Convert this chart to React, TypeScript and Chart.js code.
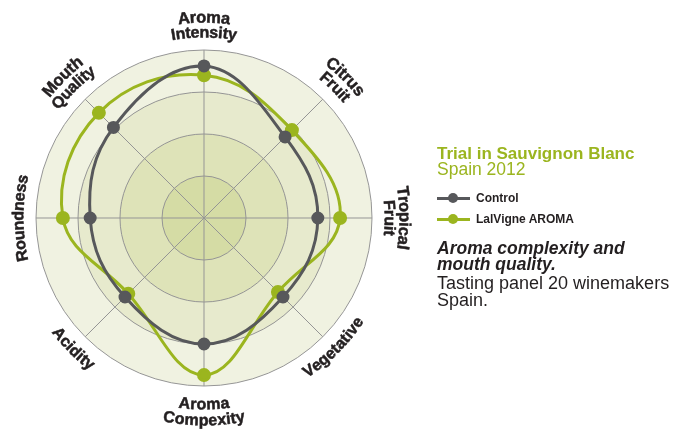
import React, { useEffect, useRef } from 'react';
import { Chart, registerables } from 'chart.js';

Chart.register(...registerables);

// ---- data ----
const categories: string[][] = [
  ['Aroma', 'Intensity'],
  ['Citrus', 'Fruit'],
  ['Tropical', 'Fruit'],
  ['Vegetative'],
  ['Aroma', 'Compexity'],
  ['Acidity'],
  ['Roundness'],
  ['Mouth', 'Quality'],
];
const seriesNames = ['Control', 'LalVigne AROMA'];
const controlValues = [3.62, 2.73, 2.71, 2.66, 3.0, 2.66, 2.71, 3.05];
const lalvigneValues = [3.4, 2.96, 3.24, 2.49, 3.74, 2.55, 3.36, 3.54];
const scaleMin = 0;
const scaleMax = 4;
const ringValues = [1, 2, 3, 4];

// ---- style ----
const CONTROL_COLOR = '#57585b';
const GREEN = '#9bb51f';
const TEXT = '#231f20';
const GRID = '#959595';
const RING_COLORS = ['#d5dca5', '#dee3b8', '#e7eacd', '#f0f2e1'];
const FONT = '"Liberation Sans", Arial, Helvetica, sans-serif';

const ringsPlugin = {
  id: 'rings',
  beforeDraw(chart: any) {
    const scale = chart.scales.r;
    if (!scale) return;
    const ctx = chart.ctx;
    ctx.save();
    for (let i = ringValues.length - 1; i >= 0; i--) {
      const r = scale.getDistanceFromCenterForValue(ringValues[i]);
      ctx.beginPath();
      ctx.arc(scale.xCenter, scale.yCenter, r, 0, Math.PI * 2);
      ctx.fillStyle = RING_COLORS[i];
      ctx.fill();
    }
    ctx.restore();
  },
};

function drawArcText(ctx: CanvasRenderingContext2D, text: string, cx: number, cy: number, r: number, theta: number, bottom: boolean) {
  const total = ctx.measureText(text).width;
  for (let i = 0; i < text.length; i++) {
    const before = ctx.measureText(text.slice(0, i)).width;
    const after = ctx.measureText(text.slice(0, i + 1)).width;
    const mid = (before + after) / 2;
    const off = (mid - total / 2) / r;
    const a = bottom ? theta - off : theta + off;
    const x = cx + r * Math.sin(a);
    const y = cy - r * Math.cos(a);
    ctx.save();
    ctx.translate(x, y);
    ctx.rotate(bottom ? a - Math.PI : a);
    ctx.strokeText(text[i], 0, 0);
    ctx.fillText(text[i], 0, 0);
    ctx.restore();
  }
}

const labelsPlugin = {
  id: 'arcLabels',
  afterDraw(chart: any) {
    const scale = chart.scales.r;
    if (!scale) return;
    const ctx = chart.ctx as CanvasRenderingContext2D;
    const labels = chart.data.labels as string[][];
    const base = scale.drawingArea + 17;
    ctx.save();
    ctx.fillStyle = TEXT;
    ctx.strokeStyle = TEXT;
    ctx.lineWidth = 0.5;
    ctx.lineJoin = 'round';
    ctx.textAlign = 'center';
    ctx.textBaseline = 'middle';
    labels.forEach((lines, i) => {
      const theta = scale.getIndexAngle(i);
      const deg = (theta * 180) / Math.PI;
      const bottom = deg > 91 && deg < 269;
      const n = lines.length;
      lines.forEach((line, j) => {
        const size = !bottom && n > 1 && j === 0 ? 16.5 : 16;
        ctx.font = `bold ${size}px ${FONT}`;
        const r = bottom
          ? base + (n > 1 ? 2 : 1) + j * 16
          : base + (n - 1 - j) * 15;
        drawArcText(ctx, line, scale.xCenter, scale.yCenter, r, theta, bottom);
      });
    });
    ctx.restore();
  },
};

function TextLine(props: { x: number; baseline: number; size: number; weight?: string; italic?: boolean; color: string; children: React.ReactNode }) {
  const { x, baseline, size, weight, italic, color, children } = props;
  return (
    <div
      style={{
        position: 'absolute',
        left: x,
        top: baseline - 0.8465 * size,
        fontFamily: FONT,
        fontSize: size,
        lineHeight: `${size}px`,
        fontWeight: weight || 'normal',
        fontStyle: italic ? 'italic' : 'normal',
        color,
        whiteSpace: 'nowrap',
      }}
    >
      {children}
    </div>
  );
}

function LegendItem(props: { y: number; color: string; label: string }) {
  const { y, color, label } = props;
  return (
    <>
      <div style={{ position: 'absolute', left: 437, top: y - 1.5, width: 33, height: 3, background: color }} />
      <div style={{ position: 'absolute', left: 448, top: y - 5, width: 10, height: 10, borderRadius: '50%', background: color }} />
      <TextLine x={476} baseline={y + 4.3} size={12} weight="bold" color={TEXT}>
        {label}
      </TextLine>
    </>
  );
}

export default function App() {
  const ref = useRef<HTMLCanvasElement | null>(null);

  useEffect(() => {
    if (!ref.current) return;
    const chart = new Chart(ref.current, {
      type: 'radar',
      data: {
        labels: categories,
        datasets: [
          {
            label: seriesNames[0],
            data: controlValues,
            borderColor: CONTROL_COLOR,
            backgroundColor: 'transparent',
            pointBackgroundColor: CONTROL_COLOR,
            pointBorderColor: CONTROL_COLOR,
            pointRadius: 5,
            borderWidth: 3,
            fill: false,
          },
          {
            label: seriesNames[1],
            data: lalvigneValues,
            borderColor: GREEN,
            backgroundColor: 'transparent',
            pointBackgroundColor: GREEN,
            pointBorderColor: GREEN,
            pointRadius: 5.5,
            borderWidth: 3,
            fill: false,
          },
        ],
      },
      options: {
        responsive: false,
        animation: false,
        layout: { padding: { left: 36, top: 50, right: 322, bottom: 46 } },
        plugins: { legend: { display: false }, tooltip: { enabled: false } },
        elements: {
          line: { tension: 0.4 },
          point: { borderWidth: 0, hoverRadius: 5 },
        },
        scales: {
          r: {
            min: scaleMin,
            max: scaleMax,
            ticks: { display: false, stepSize: 1 },
            grid: { circular: true, color: GRID, lineWidth: 1 },
            angleLines: { color: GRID, lineWidth: 1 },
            pointLabels: { display: false },
          },
        },
      },
      plugins: [ringsPlugin, labelsPlugin],
    } as any);
    return () => chart.destroy();
  }, []);

  return (
    <div style={{ position: 'absolute', left: 0, top: 0, width: 694, height: 432, background: '#fff', overflow: 'hidden' }}>
      <canvas ref={ref} width={694} height={432} style={{ position: 'absolute', left: 0, top: 0, width: 694, height: 432 }} />
      <TextLine x={437} baseline={159} size={17} weight="bold" color={GREEN}>
        Trial in Sauvignon Blanc
      </TextLine>
      <TextLine x={437} baseline={175.5} size={17.5} color={GREEN}>
        Spain 2012
      </TextLine>
      <LegendItem y={198} color={CONTROL_COLOR} label={seriesNames[0]} />
      <LegendItem y={219} color={GREEN} label={seriesNames[1]} />
      <TextLine x={437} baseline={254.5} size={17.5} weight="bold" italic color={TEXT}>
        Aroma complexity and
      </TextLine>
      <TextLine x={437} baseline={271} size={17.5} weight="bold" italic color={TEXT}>
        mouth quality.
      </TextLine>
      <TextLine x={437} baseline={289.5} size={18} color={TEXT}>
        Tasting panel 20 winemakers
      </TextLine>
      <TextLine x={437} baseline={306} size={18} color={TEXT}>
        Spain.
      </TextLine>
    </div>
  );
}
